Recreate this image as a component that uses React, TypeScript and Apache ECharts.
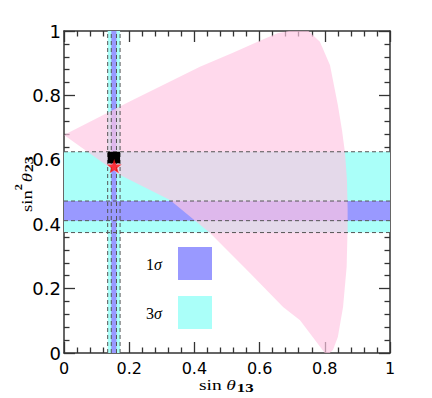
import React, { useEffect, useRef } from 'react';
import * as echarts from 'echarts';

// ---- axis range ----
const AXIS_MIN = 0;
const AXIS_MAX = 1;
const TICK_STEP = 0.2;

// ---- sin(theta13) bands (x) ----
const sinT13Band3s = [0.134, 0.172];
const sinT13Band1s = [0.145, 0.161];

// ---- sin^2(theta23) bands (y) ----
const sin2T23Band3s = [0.374, 0.625];
const sin2T23Band1s = [0.411, 0.472];

// ---- allowed (pink) region boundary: [sin θ13, sin² θ23] ----
const allowedRegion: number[][] = [
  [0.0, 0.677],
  [0.2, 0.78],
  [0.417, 0.889],
  [0.52, 0.933],
  [0.601, 0.97],
  [0.655, 0.993],
  [0.69, 1.0],
  [0.75, 1.0],
  [0.785, 0.967],
  [0.816, 0.894],
  [0.84, 0.77],
  [0.853, 0.69],
  [0.862, 0.621],
  [0.868, 0.537],
  [0.87, 0.45],
  [0.87, 0.391],
  [0.867, 0.267],
  [0.856, 0.143],
  [0.84, 0.05],
  [0.825, 0.009],
  [0.815, 0.0],
  [0.8, 0.0],
  [0.724, 0.102],
  [0.672, 0.143],
  [0.571, 0.248],
  [0.448, 0.373],
  [0.325, 0.475],
  [0.172, 0.553],
];

// ---- best-fit box [x0, x1, y0, y1] and best-fit point ----
const bestFitBox = [0.134, 0.172, 0.589, 0.625];
const bestFitPoint = [0.154, 0.58];

// ---- legend ----
const legendLabels = ['1', '3'];

const CYAN = '#aafff9';
const BLUE = '#9999ff';
const PINK = 'rgba(255,199,227,0.68)';
const DASH = '#555555';
const AXIS_COLOR = '#333333';

const STAR =
  'path://M0,-10L2.35,-3.24L9.51,-3.09L3.8,1.24L5.88,8.09L0,4L-5.88,8.09L-3.8,1.24L-9.51,-3.09L-2.35,-3.24Z';

export default function App() {
  const ref = useRef<HTMLDivElement>(null);

  useEffect(() => {
    const chart = echarts.init(ref.current!, null, { renderer: 'svg' });

    const rectRender = (color: string) => (params: any, api: any) => {
      const p0 = api.coord([api.value(0), api.value(2)]);
      const p1 = api.coord([api.value(1), api.value(3)]);
      return {
        type: 'rect',
        shape: {
          x: Math.min(p0[0], p1[0]),
          y: Math.min(p0[1], p1[1]),
          width: Math.abs(p1[0] - p0[0]),
          height: Math.abs(p1[1] - p0[1]),
        },
        style: { fill: color },
      };
    };

    const lineRender = (params: any, api: any) => {
      const p0 = api.coord([api.value(0), api.value(2)]);
      const p1 = api.coord([api.value(1), api.value(3)]);
      return {
        type: 'line',
        shape: { x1: p0[0], y1: p0[1], x2: p1[0], y2: p1[1] },
        style: { stroke: DASH, lineWidth: 1, lineDash: [4, 3] },
      };
    };

    const band3Data = [
      [sinT13Band3s[0], sinT13Band3s[1], AXIS_MIN, AXIS_MAX],
      [AXIS_MIN, AXIS_MAX, sin2T23Band3s[0], sin2T23Band3s[1]],
    ];
    const band1Data = [
      [sinT13Band1s[0], sinT13Band1s[1], AXIS_MIN, AXIS_MAX],
      [AXIS_MIN, AXIS_MAX, sin2T23Band1s[0], sin2T23Band1s[1]],
    ];
    const dashData = [
      ...[...sinT13Band3s, ...sinT13Band1s].map((v) => [v, v, AXIS_MIN, AXIS_MAX]),
      ...[...sin2T23Band3s, ...sin2T23Band1s].map((v) => [AXIS_MIN, AXIS_MAX, v, v]),
    ];

    const axisCommon: any = {
      type: 'value',
      min: AXIS_MIN,
      max: AXIS_MAX,
      interval: TICK_STEP,
      axisLine: { show: true, onZero: false, lineStyle: { color: AXIS_COLOR, width: 1.5 } },
      axisTick: { show: true, inside: true, length: 11, lineStyle: { color: AXIS_COLOR, width: 1.3 } },
      minorTick: { show: true, splitNumber: 5, length: 5.5, lineStyle: { color: AXIS_COLOR, width: 1.3 } },
      splitLine: { show: false },
      minorSplitLine: { show: false },
    };

    const serif = 'Liberation Serif';

    chart.setOption({
      animation: false,
      grid: { left: 64, top: 31, width: 326, height: 322 },
      xAxis: [
        {
          ...axisCommon,
          position: 'bottom',
          axisLabel: { fontFamily: 'DejaVu Sans', fontSize: 16, color: '#000', margin: 7 },
        },
        { ...axisCommon, position: 'top', axisLabel: { show: false } },
      ],
      yAxis: [
        {
          ...axisCommon,
          position: 'left',
          axisLabel: { fontFamily: 'DejaVu Sans', fontSize: 18, color: '#000', margin: 3 },
        },
        { ...axisCommon, position: 'right', axisLabel: { show: false } },
      ],
      series: [
        {
          type: 'custom',
          name: '3σ',
          data: band3Data,
          encode: { x: [0, 1], y: [2, 3] },
          renderItem: rectRender(CYAN),
          silent: true,
        },
        {
          type: 'custom',
          name: '1σ',
          data: band1Data,
          encode: { x: [0, 1], y: [2, 3] },
          renderItem: rectRender(BLUE),
          silent: true,
        },
        {
          type: 'custom',
          name: 'allowed',
          data: allowedRegion,
          encode: { x: 0, y: 1 },
          renderItem: (params: any, api: any) => {
            if (params.dataIndex !== 0) return null;
            const pts = allowedRegion.map((p) => api.coord(p));
            return { type: 'polygon', shape: { points: pts }, style: { fill: PINK } };
          },
          silent: true,
        },
        {
          type: 'custom',
          name: 'edges',
          data: dashData,
          encode: { x: [0, 1], y: [2, 3] },
          renderItem: lineRender,
          silent: true,
        },
        {
          type: 'custom',
          name: 'best box',
          data: [bestFitBox],
          encode: { x: [0, 1], y: [2, 3] },
          renderItem: rectRender('#000000'),
          silent: true,
        },
        {
          type: 'scatter',
          name: 'best fit',
          data: [bestFitPoint],
          symbol: STAR,
          symbolKeepAspect: true,
          symbolSize: 15,
          z: 10,
          itemStyle: { color: '#ff1010' },
          silent: true,
        },
      ],
      graphic: [
        { type: 'rect', shape: { x: 178, y: 247, width: 34, height: 33 }, style: { fill: BLUE } },
        { type: 'rect', shape: { x: 178, y: 296, width: 34, height: 33 }, style: { fill: CYAN } },
        {
          type: 'group',
          x: 146,
          y: 264,
          children: [
            { type: 'text', x: 0, y: 0, style: { text: legendLabels[0], font: `16px "${serif}"`, fill: '#000', verticalAlign: 'middle' } },
            { type: 'text', x: 8, y: 0, style: { text: 'σ', font: `italic 16px "${serif}"`, fill: '#000', verticalAlign: 'middle' } },
          ],
        },
        {
          type: 'group',
          x: 146,
          y: 313,
          children: [
            { type: 'text', x: 0, y: 0, style: { text: legendLabels[1], font: `16px "${serif}"`, fill: '#000', verticalAlign: 'middle' } },
            { type: 'text', x: 8, y: 0, style: { text: 'σ', font: `italic 16px "${serif}"`, fill: '#000', verticalAlign: 'middle' } },
          ],
        },
        {
          type: 'group',
          x: 199,
          y: 385,
          scaleX: 1.3,
          children: [
            { type: 'text', x: 0, y: 0, style: { text: 'sin', font: `15px "${serif}"`, fill: '#000', verticalAlign: 'middle' } },
            { type: 'text', x: 21, y: 0, style: { text: 'θ', font: `italic 15px "${serif}"`, fill: '#000', verticalAlign: 'middle' } },
            { type: 'text', x: 29, y: 3, style: { text: '13', font: `bold 13px "${serif}"`, fill: '#000', verticalAlign: 'middle' } },
          ],
        },
        {
          type: 'group',
          x: 27,
          y: 212,
          rotation: Math.PI / 2,
          scaleX: 1.24,
          children: [
            { type: 'text', x: 0, y: 0, style: { text: 'sin', font: `15px "${serif}"`, fill: '#000', verticalAlign: 'middle' } },
            { type: 'text', x: 17.5, y: -9, style: { text: '2', font: `bold 10px "${serif}"`, fill: '#000', verticalAlign: 'middle' } },
            { type: 'text', x: 24, y: 0, style: { text: 'θ', font: `italic 15px "${serif}"`, fill: '#000', verticalAlign: 'middle' } },
            { type: 'text', x: 32, y: 1.5, style: { text: '23', font: `bold 13px "${serif}"`, fill: '#000', verticalAlign: 'middle' } },
          ],
        },
      ],
    });

    return () => chart.dispose();
  }, []);

  return (
    <div
      ref={ref}
      style={{ position: 'absolute', left: 0, top: 0, width: 432, height: 398, background: '#fff' }}
    />
  );
}
